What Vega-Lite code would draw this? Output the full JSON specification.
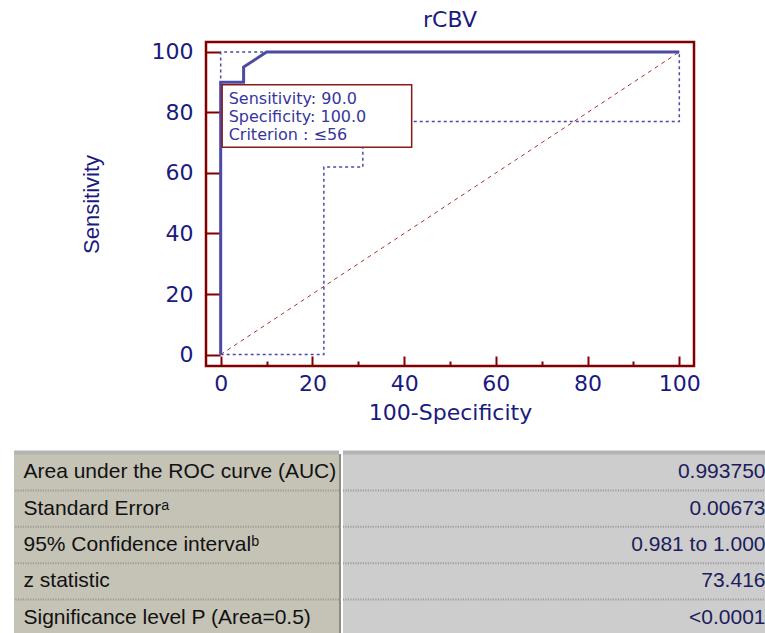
{
  "$schema": "https://vega.github.io/schema/vega-lite/v6.json",
  "background": "white",
  "padding": {"left": 12, "top": 7, "right": 0, "bottom": 0},
  "config": {"view": {"stroke": null}, "font": "DejaVu Sans"},
  "datasets": {
    "roc": [
      {"series": "roc", "i": 1, "fpr": 0, "sens": 0},
      {"series": "roc", "i": 2, "fpr": 0, "sens": 90},
      {"series": "roc", "i": 3, "fpr": 5, "sens": 90},
      {"series": "roc", "i": 4, "fpr": 5, "sens": 95},
      {"series": "roc", "i": 5, "fpr": 10, "sens": 100},
      {"series": "roc", "i": 6, "fpr": 100, "sens": 100},
      {"series": "upper", "i": 1, "fpr": 0, "sens": 0},
      {"series": "upper", "i": 2, "fpr": 0, "sens": 100},
      {"series": "upper", "i": 3, "fpr": 100, "sens": 100},
      {"series": "lower", "i": 1, "fpr": 0, "sens": 0},
      {"series": "lower", "i": 2, "fpr": 22.5, "sens": 0},
      {"series": "lower", "i": 3, "fpr": 22.5, "sens": 62},
      {"series": "lower", "i": 4, "fpr": 31, "sens": 62},
      {"series": "lower", "i": 5, "fpr": 31, "sens": 77},
      {"series": "lower", "i": 6, "fpr": 100, "sens": 77},
      {"series": "lower", "i": 7, "fpr": 100, "sens": 100},
      {"series": "diag", "i": 1, "fpr": 0, "sens": 0},
      {"series": "diag", "i": 2, "fpr": 100, "sens": 100}
    ],
    "criterion": [
      {"fpr": 0, "sens": 90, "note": "Sensitivity: 90.0\nSpecificity: 100.0\nCriterion : ≤56"}
    ],
    "stats": [
      {"row": 1, "label": "Area under the ROC curve (AUC)", "value": "0.993750"},
      {"row": 2, "label": "Standard Errorᵃ", "value": "0.00673"},
      {"row": 3, "label": "95% Confidence intervalᵇ", "value": "0.981 to 1.000"},
      {"row": 4, "label": "z statistic", "value": "73.416"},
      {"row": 5, "label": "Significance level P (Area=0.5)", "value": "<0.0001"}
    ]
  },
  "spacing": 25,
  "vconcat": [
    {
      "spacing": 0,
      "hconcat": [
        {
          "width": 64,
          "height": 10,
          "data": {"values": [{}]},
          "mark": {"type": "point", "opacity": 0},
          "view": {"stroke": null}
        },
        {
          "width": 488,
          "height": 324,
          "view": {"stroke": "#800000", "strokeWidth": 2.5},
          "title": {
            "text": "rCBV",
            "font": "DejaVu Sans",
            "fontSize": 22,
            "fontWeight": "normal",
            "color": "#1a1a80",
            "offset": -13,
            "frame": "group",
            "baseline": "bottom",
            "anchor": "middle"
          },
          "data": {"name": "roc"},
          "layer": [
            {
              "transform": [{"filter": "datum.series === 'diag'"}],
              "mark": {"type": "line", "color": "#a83232", "strokeWidth": 1, "strokeDash": [4, 4]},
              "encoding": {
                "x": {
                  "field": "fpr",
                  "type": "quantitative",
                  "scale": {"domain": [-3.2, 103.2], "nice": false, "zero": false},
                  "axis": {
                    "values": [0, 5, 10, 15, 20, 25, 30, 35, 40, 45, 50, 55, 60, 65, 70, 75, 80, 85, 90, 95, 100],
                    "labelExpr": "datum.value % 20 === 0 ? datum.label : ''",
                    "tickSize": {"condition": {"test": "datum.value % 20 === 0", "value": -10}, "value": -5},
                    "tickColor": "#800000",
                    "tickWidth": 2,
                    "domain": false,
                    "grid": false,
                    "labelPadding": 17,
                    "labelFont": "DejaVu Sans",
                    "labelFontSize": 22,
                    "labelColor": "#1a1a80",
                    "labelFlush": false,
                    "labelOverlap": false,
                    "labelBound": false,
                    "title": "100-Specificity",
                    "titleFont": "DejaVu Sans",
                    "titleFontSize": 22,
                    "titleFontWeight": "normal",
                    "titleColor": "#1a1a80",
                    "titleX": 244,
                    "titleY": 53,
                    "titleBaseline": "alphabetic",
                    "titleAlign": "center"
                  }
                },
                "y": {
                  "field": "sens",
                  "type": "quantitative",
                  "scale": {"domain": [-3.8, 103.3], "nice": false, "zero": false},
                  "axis": {
                    "values": [0, 5, 10, 15, 20, 25, 30, 35, 40, 45, 50, 55, 60, 65, 70, 75, 80, 85, 90, 95, 100],
                    "labelExpr": "datum.value % 20 === 0 ? datum.label : ''",
                    "tickSize": {"condition": {"test": "datum.value % 20 === 0", "value": -14}, "value": -8},
                    "tickColor": "#800000",
                    "tickWidth": 2,
                    "domain": false,
                    "grid": false,
                    "labelPadding": 27,
                    "labelFont": "DejaVu Sans",
                    "labelFontSize": 22,
                    "labelColor": "#1a1a80",
                    "labelFlush": false,
                    "labelOverlap": false,
                    "labelBound": false,
                    "title": "Sensitivity",
                    "titleFont": "Liberation Sans",
                    "titleFontSize": 22,
                    "titleFontWeight": "normal",
                    "titleColor": "#1a1a80",
                    "titleX": -108,
                    "titleY": 162,
                    "titleAngle": -90,
                    "titleAlign": "center",
                    "titleBaseline": "alphabetic"
                  }
                },
                "order": {"field": "i", "type": "quantitative"}
              }
            },
            {
              "transform": [{"filter": "datum.series === 'upper' || datum.series === 'lower'"}],
              "mark": {"type": "line", "color": "#4a4aaa", "strokeWidth": 1.5, "strokeDash": [3, 3]},
              "encoding": {
                "x": {"field": "fpr", "type": "quantitative"},
                "y": {"field": "sens", "type": "quantitative"},
                "detail": {"field": "series"},
                "order": {"field": "i", "type": "quantitative"}
              }
            },
            {
              "transform": [{"filter": "datum.series === 'roc'"}],
              "mark": {"type": "line", "color": "#4b4ba3", "strokeWidth": 3},
              "encoding": {
                "x": {"field": "fpr", "type": "quantitative"},
                "y": {"field": "sens", "type": "quantitative"},
                "order": {"field": "i", "type": "quantitative"}
              }
            },
            {
              "data": {"name": "criterion"},
              "mark": {
                "type": "rect",
                "fill": "white",
                "stroke": "#8b1a1a",
                "strokeWidth": 1.5,
                "xOffset": 1.5,
                "x2Offset": 191,
                "yOffset": 2.5,
                "y2Offset": 65
              },
              "encoding": {
                "x": {"field": "fpr", "type": "quantitative"},
                "x2": {"field": "fpr"},
                "y": {"field": "sens", "type": "quantitative"},
                "y2": {"field": "sens"}
              }
            },
            {
              "data": {"name": "criterion"},
              "mark": {
                "type": "text",
                "align": "left",
                "baseline": "top",
                "dx": 8,
                "dy": 9,
                "font": "DejaVu Sans",
                "fontSize": 16,
                "lineHeight": 18,
                "lineBreak": "\n",
                "color": "#3636a0"
              },
              "encoding": {
                "x": {"field": "fpr", "type": "quantitative"},
                "y": {"field": "sens", "type": "quantitative"},
                "text": {"field": "note"}
              }
            }
          ]
        }
      ]
    },
    {
      "spacing": 0,
      "data": {"name": "stats"},
      "hconcat": [
        {
          "width": 325,
          "height": 182,
          "view": {"fill": "#c5c2b6", "stroke": null},
          "layer": [
            {
              "transform": [{"filter": "datum.row > 1"}],
              "mark": {"type": "rule", "color": "#9c9b93", "strokeWidth": 2, "strokeDash": [1.2, 1.3]},
              "encoding": {
                "y": {
                  "field": "label",
                  "type": "nominal",
                  "bandPosition": 0,
                  "sort": {"field": "row", "op": "min"},
                  "scale": {"paddingInner": 0, "paddingOuter": 0},
                  "axis": {
                    "orient": "left",
                    "title": null,
                    "domain": false,
                    "ticks": false,
                    "labelAlign": "left",
                    "labelBaseline": "middle",
                    "labelPadding": -9,
                    "labelLimit": 314,
                    "labelFont": "Liberation Sans",
                    "labelFontSize": 21,
                    "labelColor": "#111111"
                  }
                }
              }
            },
            {
              "transform": [{"filter": "datum.row === 1"}],
              "mark": {"type": "rule", "color": "#b4b4b4", "strokeWidth": 4, "yOffset": -1.5},
              "encoding": {
                "y": {"field": "label", "type": "nominal", "bandPosition": 0, "sort": {"field": "row", "op": "min"}}
              }
            },
            {
              "transform": [{"filter": "datum.row === 1"}],
              "mark": {"type": "rule", "color": "#8e8e84", "strokeWidth": 2, "xOffset": 1},
              "encoding": {"x": {"value": "width"}}
            }
          ]
        },
        {
          "width": 426,
          "height": 182,
          "view": {"fill": "#cdcdcd", "stroke": null},
          "layer": [
            {
              "transform": [{"filter": "datum.row > 1"}],
              "mark": {"type": "rule", "color": "#9c9c9c", "strokeWidth": 2, "strokeDash": [1.2, 1.3]},
              "encoding": {
                "y": {
                  "field": "value",
                  "type": "nominal",
                  "bandPosition": 0,
                  "sort": {"field": "row", "op": "min"},
                  "scale": {"paddingInner": 0, "paddingOuter": 0},
                  "axis": {
                    "orient": "right",
                    "title": null,
                    "domain": false,
                    "ticks": false,
                    "labelAlign": "right",
                    "labelBaseline": "middle",
                    "labelPadding": -4,
                    "labelLimit": 400,
                    "labelFont": "Liberation Sans",
                    "labelFontSize": 21,
                    "labelColor": "#1c1c5c"
                  }
                }
              }
            },
            {
              "transform": [{"filter": "datum.row === 1"}],
              "mark": {"type": "rule", "color": "#b4b4b4", "strokeWidth": 4, "yOffset": -1.5},
              "encoding": {
                "y": {"field": "value", "type": "nominal", "bandPosition": 0, "sort": {"field": "row", "op": "min"}}
              }
            }
          ]
        }
      ]
    }
  ]
}
